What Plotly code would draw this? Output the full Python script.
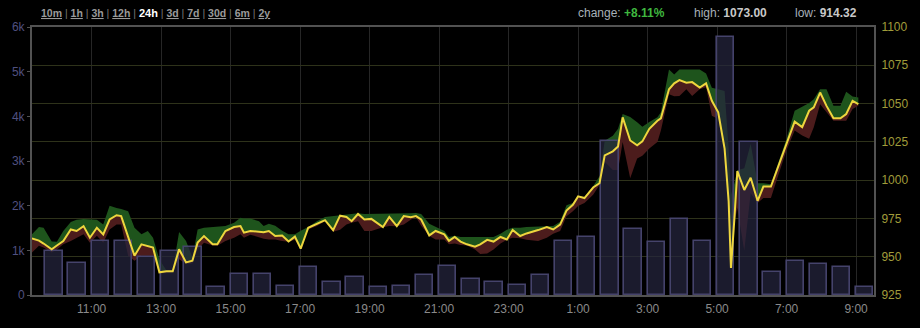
import plotly.graph_objects as go

DAY1 = "2014-03-01"
DAY2 = "2014-03-02"

# ---- price samples (time of day, price, high band, low band) ----
times_day1 = [
    "09:17", "09:29", "09:37", "09:51", "10:00", "10:11", "10:24", "10:34", "10:46", "10:57",
    "11:09", "11:20", "11:31", "11:43", "11:51", "12:03", "12:14", "12:26", "12:37", "12:46",
    "12:57", "13:09", "13:20", "13:31", "13:43", "13:54", "14:03", "14:14", "14:29", "14:37",
    "14:51", "15:06", "15:17",
    "15:23", "15:34", "15:49", "15:57", "16:06", "16:17", "16:29", "16:40", "16:51", "17:01",
    "17:14", "17:29", "17:43", "17:57", "18:09", "18:20", "18:29", "18:40", "18:51", "19:03",
    "19:23", "19:34", "19:47", "19:59", "20:11", "20:20", "20:29", "20:43", "20:54", "21:09",
    "21:17", "21:27", "21:37", "21:48", "22:02", "22:11", "22:23", "22:34", "22:46", "22:57",
    "23:07", "23:20", "23:31", "23:51",
]
times_day2 = [
    "00:06", "00:17", "00:29", "00:40", "00:51", "01:00",
    "01:11", "01:26", "01:37", "01:46", "02:00", "02:09", "02:17", "02:30", "02:42", "02:51",
    "03:03", "03:17",
    "03:23", "03:37", "03:46", "03:55", "04:07", "04:17", "04:30", "04:41", "04:51", "05:02",
    "05:13", "05:20", "05:24", "05:30", "05:35", "05:47", "05:58", "06:10", "06:20", "06:33",
    "06:44", "07:00", "07:14", "07:27", "07:39", "07:47", "07:58", "08:09", "08:21", "08:33",
    "08:43", "08:54", "09:04",
]

price = [
    962.0, 960.5, 958.6, 954.9, 957.3, 960.3, 967.8, 966.8, 970.0, 962.4,
    968.9, 964.6, 974.3, 977.1, 976.5, 963.5, 950.6, 958.1, 957.1, 956.0,
    939.8, 940.5, 940.5, 954.9, 946.3, 947.4, 959.2, 963.5, 958.1, 958.1,
    966.8, 969.4, 970.0,
    965.7, 966.8, 966.0, 966.0, 966.8, 963.5, 963.9, 959.9, 963.1, 955.3,
    968.9, 971.7, 973.9, 967.4, 976.8, 976.0, 973.2, 977.9, 974.3, 974.7,
    969.4, 976.0, 970.0, 976.5, 975.8, 976.5, 974.3, 963.9, 966.8, 964.6,
    960.3, 962.9, 959.9, 958.1, 956.6, 958.1, 961.0, 959.9, 962.9, 961.3,
    967.4, 963.5, 965.2, 967.4, 969.4, 967.8, 971.0, 980.1, 983.9, 989.4,
    988.3, 995.2, 998.0, 1016.2, 1018.8, 1021.9, 1041.0, 1025.9, 1022.7, 1025.3,
    1033.5, 1038.8,
    1040.4, 1059.3, 1063.2, 1065.3, 1063.6, 1064.0, 1060.4, 1063.2, 1051.8, 1044.3,
    1020.6, 986.1, 942.6, 975.4, 1005.9, 993.6, 1001.6, 986.5, 995.8, 995.8,
    1007.6, 1023.8, 1038.2, 1034.6, 1045.3, 1047.5, 1057.2, 1048.5, 1040.4, 1040.4,
    1043.2, 1051.8, 1049.6,
]

high = [
    964.6, 969.4, 968.9, 959.9, 959.7, 966.8, 972.6, 974.1, 974.7, 974.3,
    974.1, 971.0, 983.3, 981.8, 981.2, 979.7, 968.9, 964.6, 966.8, 962.4,
    948.2, 941.1, 941.1, 966.1, 960.3, 949.5, 967.8, 968.9, 969.2, 969.5,
    970.0, 972.1, 975.4,
    975.0, 974.9, 973.2, 970.0, 971.5, 970.2, 967.0, 964.6, 964.6, 967.0,
    969.4, 973.2, 976.0, 976.5, 977.0, 977.3, 977.5, 978.3, 977.9, 977.9,
    977.9, 977.9, 977.9, 977.9, 978.3, 978.6, 977.9, 971.5, 969.5, 966.8,
    962.9, 963.7, 962.9, 962.9, 962.9, 962.9, 962.9, 962.9, 965.0, 967.6,
    968.9, 968.9, 969.4, 969.8, 970.0, 970.0, 972.8, 983.6, 985.0, 989.6,
    988.9, 996.0, 1002.5, 1025.7, 1029.0, 1033.5, 1043.2, 1041.2, 1037.8, 1034.8,
    1038.0, 1041.0,
    1044.3, 1072.2, 1069.0, 1072.2, 1072.2, 1072.2, 1072.2, 1069.6, 1060.4, 1059.3,
    1058.2, 1020.6, 990.4, 997.9, 1006.4, 1007.7, 1023.8, 997.9, 997.9, 997.3,
    1008.9, 1027.0, 1045.3, 1048.1, 1050.3, 1052.9, 1059.3, 1059.3, 1048.5, 1048.5,
    1057.8, 1054.6, 1053.9,
]

low = [
    952.8, 957.1, 956.0, 952.8, 954.7, 958.1, 960.3, 962.4, 964.6, 959.2,
    963.7, 959.2, 967.8, 971.0, 971.0, 950.6, 947.4, 950.6, 950.6, 950.6,
    939.2, 939.2, 939.8, 948.4, 945.2, 945.6, 954.7, 959.2, 957.3, 957.1,
    960.3, 962.4, 964.6,
    962.4, 964.4, 962.4, 961.8, 961.3, 961.3, 960.3, 959.7, 961.1, 955.3,
    967.8, 970.0, 973.2, 966.3, 967.6, 971.0, 972.1, 973.2, 966.8, 966.8,
    969.2, 970.0, 969.9, 971.0, 974.1, 976.0, 970.2, 963.5, 961.3, 961.3,
    958.1, 958.6, 957.6, 957.3, 954.7, 951.7, 952.1, 954.7, 958.6, 961.1,
    962.4, 962.0, 961.1, 960.3, 962.4, 965.0, 966.8, 976.5, 979.7, 983.1,
    985.0, 990.4, 996.9, 1012.0, 1006.6, 1006.6, 1024.9, 1001.2, 1014.1, 1016.0,
    1020.6, 1024.9,
    1032.4, 1056.1, 1054.8, 1055.0, 1059.3, 1055.0, 1059.3, 1060.6, 1042.1, 1039.9,
    1019.3, 985.0, 942.4, 972.1, 981.8, 953.9, 991.5, 985.0, 988.3, 988.3,
    1001.2, 1019.5, 1032.4, 1029.2, 1027.0, 1034.6, 1049.6, 1044.3, 1038.8, 1038.8,
    1038.8, 1046.4, 1048.5,
]

# ---- volume bars (period start, volume) ----
bar_starts_day1 = ["09:40", "10:20", "11:00", "11:40", "12:20", "13:00", "13:40", "14:20",
                   "15:00", "15:40", "16:20", "17:00", "17:40", "18:20", "19:00", "19:40",
                   "20:20", "21:00", "21:40", "22:20", "23:00", "23:40"]
bar_starts_day2 = ["00:20", "01:00", "01:40", "02:20", "03:00", "03:40", "04:20", "05:00",
                   "05:40", "06:20", "07:00", "07:40", "08:20", "09:00"]
volume = [990, 715, 1210, 1220, 860, 990, 1080, 190, 470, 470, 200, 630, 290, 400, 190, 210,
          450, 640, 350, 300, 230, 440, 1200, 1300, 3440, 1470, 1190, 1700, 1220, 5780, 3420,
          510, 760, 700, 630, 170]

vol_tickvals = [0, 1000, 2000, 3000, 4000, 5000, 6000]
vol_ticktext = ["0", "1k", "2k", "3k", "4k", "5k", "6k"]
price_tickvals = [925, 950, 975, 1000, 1025, 1050, 1075, 1100]

range_links = ["10m", "1h", "3h", "12h", "24h", "3d", "7d", "30d", "6m", "2y"]
active_link = "24h"

times = [f"{DAY1} {t}" for t in times_day1] + [f"{DAY2} {t}" for t in times_day2]
bar_x = [f"{DAY1} {t}" for t in bar_starts_day1] + [f"{DAY2} {t}" for t in bar_starts_day2]

FONT = "Liberation Sans, Arial, sans-serif"
GREEN = "rgb(30,84,28)"
RED = "rgb(76,28,28)"
YELLOW = "rgb(238,214,62)"

fig = go.Figure()
# band traces on base axis (drawn lowest)
fig.add_trace(go.Scatter(x=times, y=high, mode="lines", line=dict(width=0, color=GREEN),
                         hoverinfo="skip", showlegend=False, yaxis="y"))
fig.add_trace(go.Scatter(x=times, y=price, mode="lines", line=dict(width=0, color=GREEN),
                         fill="tonexty", fillcolor=GREEN, hoverinfo="skip",
                         showlegend=False, yaxis="y"))
fig.add_trace(go.Scatter(x=times, y=low, mode="lines", line=dict(width=0, color=RED),
                         fill="tonexty", fillcolor=RED, hoverinfo="skip",
                         showlegend=False, yaxis="y"))
# volume bars (middle layer)
fig.add_trace(go.Bar(x=bar_x, y=volume, width=1800000, offset=0,
                     marker=dict(color="rgba(38,38,62,0.72)",
                                 line=dict(color="rgba(72,70,112,0.95)", width=1.6)),
                     showlegend=False, yaxis="y2"))
# price line (top layer)
fig.add_trace(go.Scatter(x=times, y=price, mode="lines", line=dict(width=2, color=YELLOW),
                         showlegend=False, yaxis="y3"))

x0 = f"{DAY1} 09:17"
x1 = f"{DAY2} 09:31"

fig.update_layout(
    width=920, height=328,
    margin=dict(l=30, r=42, t=27, b=30),
    paper_bgcolor="black", plot_bgcolor="black",
    font=dict(family=FONT, size=12, color="#888"),
    bargap=0,
    xaxis=dict(type="date", range=[x0, x1], tick0=f"{DAY1} 11:00", dtick=7200000,
               tickformat="%-H:%M", showgrid=True, gridcolor="rgb(38,38,38)", gridwidth=1,
               tickfont=dict(color="#8a8a8a", size=12), ticks="outside", ticklen=2,
               tickcolor="black",
               showline=True, linecolor="rgb(82,82,82)", linewidth=2, mirror=True,
               zeroline=False, fixedrange=True),
    yaxis=dict(range=[925, 1100], side="right", tickvals=price_tickvals,
               tickfont=dict(color="rgb(160,156,58)", size=12),
               showgrid=True, gridcolor="rgb(46,50,26)", gridwidth=1,
               ticks="outside", ticklen=3, tickcolor="black",
               showline=True, linecolor="rgb(82,82,82)", linewidth=2, mirror=True,
               zeroline=False),
    yaxis2=dict(range=[0, 6000], overlaying="y", side="left", tickvals=vol_tickvals,
                ticktext=vol_ticktext, tickfont=dict(color="rgb(80,80,128)", size=12),
                showgrid=False, ticks="outside", ticklen=4, tickcolor="rgb(82,82,82)",
                zeroline=False, showline=False),
    yaxis3=dict(range=[925, 1100], overlaying="y", visible=False, showgrid=False,
                zeroline=False),
)

sep = "<span style='color:#777;font-weight:normal'> | </span>"
parts = []
for lk in range_links:
    if lk == active_link:
        parts.append(f"<b><span style='color:#ffffff;font-size:11px'>{lk}</span></b>")
    else:
        parts.append(f"<b><u>{lk}</u></b>")
range_text = sep.join(parts)


def px_to_paper(px):
    return (px - 30) / 848.0


head_y = (298 - 12.5) / 271.0

fig.add_annotation(text=range_text, xref="paper", yref="paper", x=px_to_paper(37.5), y=head_y,
                   xanchor="left", yanchor="middle", showarrow=False,
                   font=dict(family=FONT, size=10.5, color="#9a9a9a"))
fig.add_annotation(text="change: <b><span style='color:#3fb83f'>+8.11%</span></b>",
                   xref="paper", yref="paper", x=px_to_paper(577.5), y=head_y,
                   xanchor="left", yanchor="middle", showarrow=False,
                   font=dict(family=FONT, size=12, color="#a8b0b8"))
fig.add_annotation(text="high: <b><span style='color:#c8c8c8'>1073.00</span></b>",
                   xref="paper", yref="paper", x=px_to_paper(694.5), y=head_y,
                   xanchor="left", yanchor="middle", showarrow=False,
                   font=dict(family=FONT, size=12, color="#a8b0b8"))
fig.add_annotation(text="low: <b><span style='color:#c8c8c8'>914.32</span></b>",
                   xref="paper", yref="paper", x=px_to_paper(796.5), y=head_y,
                   xanchor="left", yanchor="middle", showarrow=False,
                   font=dict(family=FONT, size=12, color="#a8b0b8"))

fig.write_html("out.html", config={"displayModeBar": False})
